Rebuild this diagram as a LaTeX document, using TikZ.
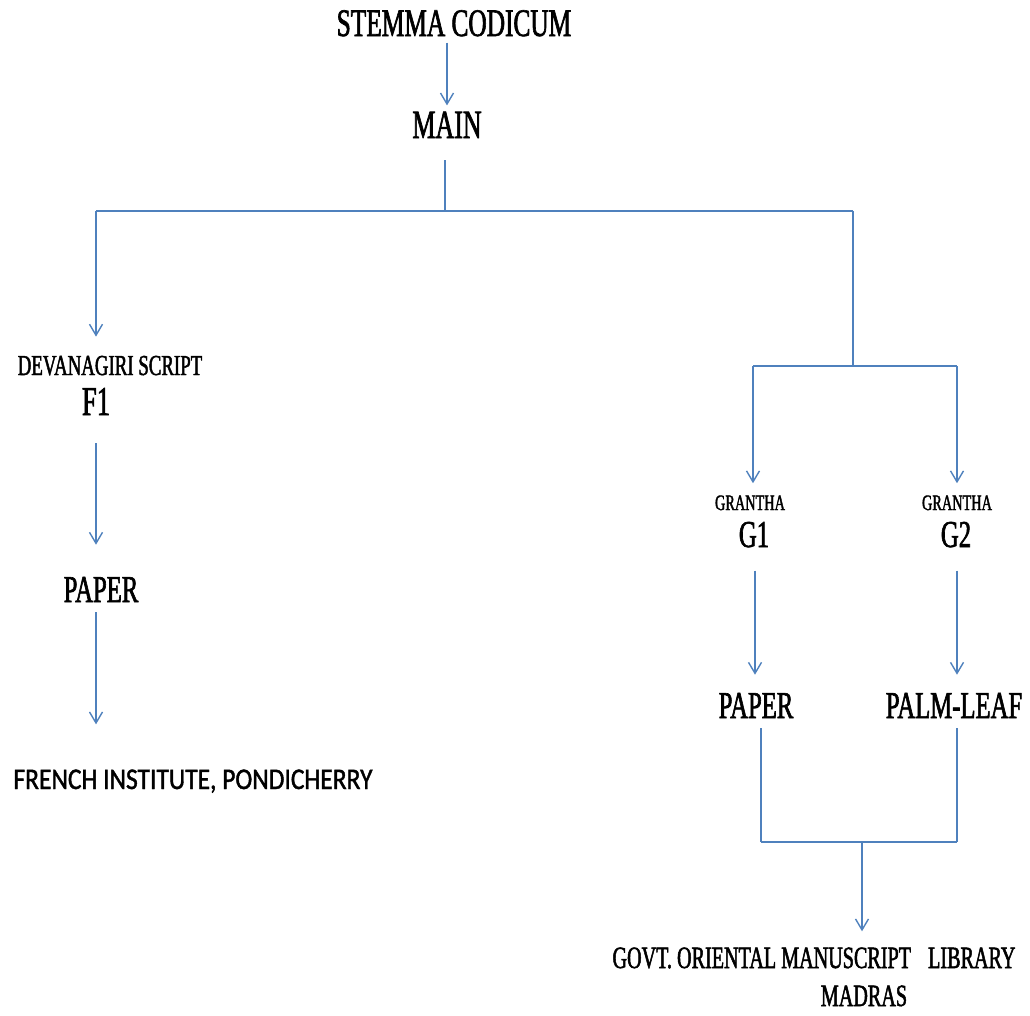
\documentclass[tikz,border=0pt]{standalone}
\usepackage{fontspec}
\usetikzlibrary{arrows.meta}
\newfontfamily\tnrfont[FakeStretch=0.65,FakeBold=1.6]{Liberation Serif}
\newfontfamily\carfont[FakeStretch=0.85,FakeBold=1.4]{Carlito}
\definecolor{lineblue}{HTML}{4F81BD}
\newcommand{\fsz}[1]{\fontsize{#1}{#1}\selectfont}
\begin{document}
\begin{tikzpicture}[x=1pt,y=-1pt,
  lbl/.style={inner sep=0pt,anchor=base,text=black},
  conn/.style={draw=lineblue,line width=1.6pt},
  arr/.style={conn,-{Straight Barb[length=11pt,width=13pt,line width=1.4pt]}}]
\useasboundingbox (0,0) rectangle (1030,1015);
% texts
\node[lbl,font=\tnrfont\fsz{39}] (stemma) at (454,36) {STEMMA CODICUM};
\node[lbl,font=\tnrfont\fsz{40}] (main) at (447,138) {MAIN};
\node[lbl,font=\tnrfont\fsz{29}] (dev) at (110,375) {DEVANAGIRI SCRIPT};
\node[lbl,font=\tnrfont\fsz{41}] (f1) at (96,415) {F1};
\node[lbl,font=\tnrfont\fsz{38}] (paperA) at (101,602) {PAPER};
\node[lbl,font=\carfont\fsz{30}] (french) at (193,789) {FRENCH INSTITUTE, PONDICHERRY};
\node[lbl,font=\tnrfont\fsz{22}] (granA) at (750,510) {GRANTHA};
\node[lbl,font=\tnrfont\fsz{22}] (granB) at (957,510) {GRANTHA};
\node[lbl,font=\tnrfont\fsz{38}] (g1) at (754,547) {G1};
\node[lbl,font=\tnrfont\fsz{38}] (g2) at (956,547) {G2};
\node[lbl,font=\tnrfont\fsz{38}] (paperB) at (756,718) {PAPER};
\node[lbl,font=\tnrfont\fsz{38}] (palm) at (954,718) {PALM-LEAF};
\node[lbl,font=\tnrfont\fsz{31}] (govt) at (814,968) {GOVT. ORIENTAL MANUSCRIPT\hspace{12pt} LIBRARY};
\node[lbl,font=\tnrfont\fsz{31}] (madras) at (864,1006) {MADRAS};
% junctions
\coordinate (j0) at (445,211);
\coordinate (cl) at (96,211);
\coordinate (cr) at (853,211);
\coordinate (j1) at (853,366);
\coordinate (gl) at (753,366);
\coordinate (gr) at (957,366);
\coordinate (g1x) at (755,560);
\coordinate (j2) at (761,842);
\coordinate (j3) at (957,842);
\coordinate (jm) at (862,842);
% connectors
\draw[arr,shorten <=6pt,shorten >=6pt] (stemma.south -| main.north) -- (main.north);
\draw[conn,shorten <=22pt] (main.south -| j0) -- (j0);
\draw[conn] (cl) -- (cr);
\draw[arr,shorten >=19pt] (cl) -- (cl |- dev.north);
\draw[conn] (cr) -- (j1);
\draw[conn] (gl) -- (gr);
\draw[arr,shorten >=12pt] (gl) -- (gl |- granA.north);
\draw[arr,shorten >=12pt] (gr) -- (gr |- granB.north);
\draw[arr,shorten <=28pt,shorten >=32pt] (f1.south) -- (f1.south |- paperA.north);
\draw[arr,shorten <=10pt,shorten >=45pt] (paperA.south -| f1.south) -- (f1.south |- french.north);
\draw[arr,shorten <=23pt,shorten >=18pt] (g1.south -| g1x) -- (paperB.north -| g1x);
\draw[arr,shorten <=23pt,shorten >=18pt] (g2.south -| gr) -- (palm.north -| gr);
\draw[conn,shorten <=10pt] (paperB.south -| j2) -- (j2);
\draw[conn,shorten <=10pt] (palm.south -| j3) -- (j3);
\draw[conn] (j2) -- (j3);
\draw[arr,shorten >=16pt] (jm) -- (jm |- govt.north);
\end{tikzpicture}
\end{document}
